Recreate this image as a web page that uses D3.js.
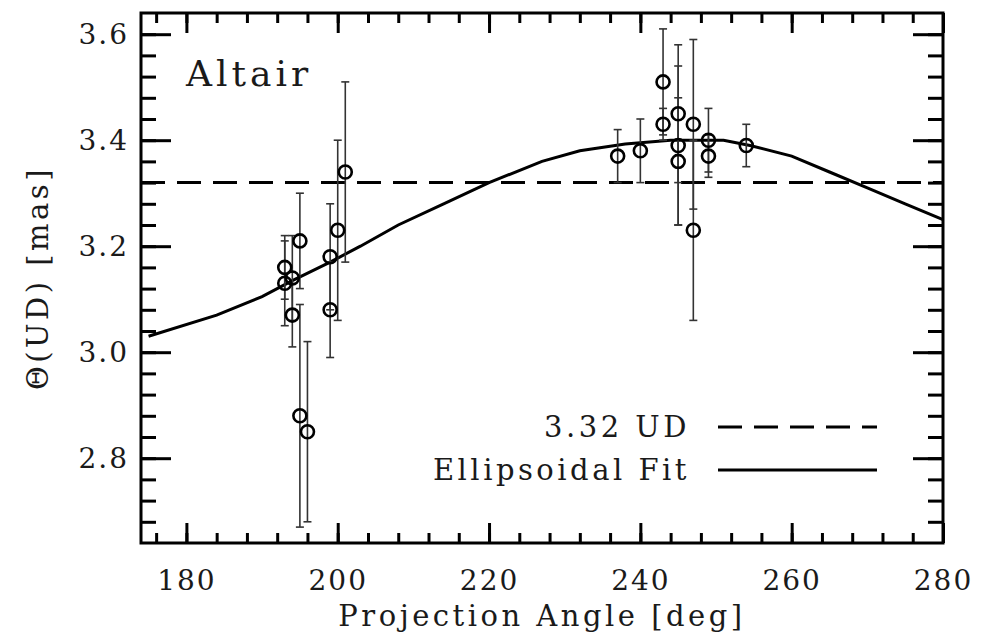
<!DOCTYPE html>
<html>
<head>
<meta charset="utf-8">
<script src="https://cdnjs.cloudflare.com/ajax/libs/d3/7.8.5/d3.min.js"></script>
<style>
html, body { margin: 0; padding: 0; background: #fff; }
svg { display: block; }
text { font-family: "DejaVu Serif", serif; fill: #1a1a1a; }
.axis line { stroke: #000; stroke-width: 3; }
</style>
</head>
<body>
<svg id="chart" width="994" height="639"></svg>
<script>
// measurements: projection angle [deg], uniform disk diameter [mas], 1-sigma error
var angle = [193, 193, 194, 194, 195, 195, 196, 199, 199, 200, 201,
             237, 240, 243, 243, 245, 245, 245, 247, 247, 249, 249, 254];
var ud    = [3.16, 3.13, 3.14, 3.07, 3.21, 2.88, 2.85, 3.18, 3.08, 3.23, 3.34,
             3.37, 3.38, 3.51, 3.43, 3.45, 3.39, 3.36, 3.43, 3.23, 3.40, 3.37, 3.39];
var udErr = [0.06, 0.08, 0.08, 0.06, 0.09, 0.21, 0.17, 0.10, 0.09, 0.17, 0.17,
             0.05, 0.06, 0.10, 0.03, 0.13, 0.15, 0.12, 0.16, 0.17, 0.06, 0.04, 0.04];

// ellipsoidal fit
var fitAngle = [175, 184, 190, 194, 199, 203, 208, 214, 220, 227, 232, 238,
                244, 251, 254.5, 260, 265, 270, 275, 280];
var fitUD    = [3.03, 3.07, 3.105, 3.135, 3.17, 3.20, 3.24, 3.28, 3.32, 3.36, 3.38, 3.393,
                3.40, 3.40, 3.39, 3.37, 3.34, 3.31, 3.28, 3.25];

var uniformUD = 3.32;

var xMajor = [180, 200, 220, 240, 260, 280];
var yMajor = [2.8, 3.0, 3.2, 3.4, 3.6];
var xMinor = d3.range(176, 281, 4);
var yMinor = d3.range(67, 91).map(function(i) { return i / 25; });

var svg = d3.select("#chart");

var x = d3.scaleLinear().domain([174, 280]).range([141, 943]);
var y = d3.scaleLinear().domain([2.64, 3.64]).range([543, 13]);

function noDomain(g) { g.select(".domain").remove(); }

// ticks on all four sides, pointing inwards
svg.append("g").attr("class", "axis").attr("transform", "translate(0,543)")
    .call(d3.axisBottom(x).tickValues(xMinor).tickSize(-10).tickFormat(""))
    .call(noDomain);
var xb = svg.append("g").attr("class", "axis").attr("transform", "translate(0,543)")
    .call(d3.axisBottom(x).tickValues(xMajor).tickSize(-20).tickPadding(27).tickFormat(d3.format("d")))
    .call(noDomain);
svg.append("g").attr("class", "axis").attr("transform", "translate(0,13)")
    .call(d3.axisTop(x).tickValues(xMinor).tickSize(-10).tickFormat(""))
    .call(noDomain);
svg.append("g").attr("class", "axis").attr("transform", "translate(0,13)")
    .call(d3.axisTop(x).tickValues(xMajor).tickSize(-20).tickFormat(""))
    .call(noDomain);

svg.append("g").attr("class", "axis").attr("transform", "translate(141,0)")
    .call(d3.axisLeft(y).tickValues(yMinor).tickSize(-15).tickFormat(""))
    .call(noDomain);
var yl = svg.append("g").attr("class", "axis").attr("transform", "translate(141,0)")
    .call(d3.axisLeft(y).tickValues(yMajor).tickSize(-30).tickPadding(12).tickFormat(d3.format(".1f")))
    .call(noDomain);
svg.append("g").attr("class", "axis").attr("transform", "translate(943,0)")
    .call(d3.axisRight(y).tickValues(yMinor).tickSize(-15).tickFormat(""))
    .call(noDomain);
svg.append("g").attr("class", "axis").attr("transform", "translate(943,0)")
    .call(d3.axisRight(y).tickValues(yMajor).tickSize(-30).tickFormat(""))
    .call(noDomain);

svg.selectAll(".axis text")
    .style("font-family", "'DejaVu Serif', serif")
    .style("font-size", "28px")
    .style("letter-spacing", "2px")
    .attr("fill", "#1a1a1a");

// frame
svg.append("rect")
    .attr("x", x(174)).attr("y", y(3.64))
    .attr("width", x(280) - x(174)).attr("height", y(2.64) - y(3.64))
    .attr("fill", "none").attr("stroke", "#000").attr("stroke-width", 3);

// uniform disk level
svg.append("line")
    .attr("x1", x(174)).attr("x2", x(280))
    .attr("y1", y(uniformUD)).attr("y2", y(uniformUD))
    .attr("stroke", "#000").attr("stroke-width", 3)
    .attr("stroke-dasharray", "24,12");

// ellipsoidal fit
var line = d3.line()
    .x(function(d, i) { return x(fitAngle[i]); })
    .y(function(d) { return y(d); });
svg.append("path")
    .attr("d", line(fitUD))
    .attr("fill", "none").attr("stroke", "#000").attr("stroke-width", 3);

// error bars
var idx = d3.range(angle.length);
var bars = svg.append("g").attr("stroke", "#333").attr("stroke-width", 1.6);
bars.selectAll("line.v").data(idx).enter().append("line")
    .attr("x1", function(i) { return x(angle[i]); })
    .attr("x2", function(i) { return x(angle[i]); })
    .attr("y1", function(i) { return y(ud[i] + udErr[i]); })
    .attr("y2", function(i) { return y(ud[i] - udErr[i]); });
[1, -1].forEach(function(s) {
  bars.selectAll("line.c" + s).data(idx).enter().append("line")
      .attr("x1", function(i) { return x(angle[i]) - 4; })
      .attr("x2", function(i) { return x(angle[i]) + 4; })
      .attr("y1", function(i) { return y(ud[i] + s * udErr[i]); })
      .attr("y2", function(i) { return y(ud[i] + s * udErr[i]); });
});

// points
svg.append("g").selectAll("circle").data(idx).enter().append("circle")
    .attr("cx", function(i) { return x(angle[i]); })
    .attr("cy", function(i) { return y(ud[i]); })
    .attr("r", 6.5)
    .attr("fill", "none").attr("stroke", "#000").attr("stroke-width", 2.6);

// labels
svg.append("text")
    .attr("x", 186).attr("y", 86)
    .style("font-size", "36px").style("letter-spacing", "4px")
    .text("Altair");

svg.append("text")
    .attr("x", 542).attr("y", 626)
    .attr("text-anchor", "middle")
    .style("font-size", "29px").style("letter-spacing", "3.5px")
    .text("Projection Angle [deg]");

svg.append("text")
    .attr("transform", "translate(48,278) rotate(-90)")
    .attr("text-anchor", "middle")
    .style("font-size", "29px").style("letter-spacing", "3.5px")
    .text("\u0398(UD) [mas]");

// legend
var legend = [
  {label: "3.32 UD", dash: "24,12", y: 427},
  {label: "Ellipsoidal Fit", dash: null, y: 470}
];
legend.forEach(function(d) {
  svg.append("text")
      .attr("x", 690).attr("y", d.y + 10)
      .attr("text-anchor", "end")
      .style("font-size", "29px").style("letter-spacing", "3.5px")
      .text(d.label);
  svg.append("line")
      .attr("x1", 718).attr("x2", 877)
      .attr("y1", d.y).attr("y2", d.y)
      .attr("stroke", "#000").attr("stroke-width", 3)
      .attr("stroke-dasharray", d.dash);
});
</script>
</body>
</html>
